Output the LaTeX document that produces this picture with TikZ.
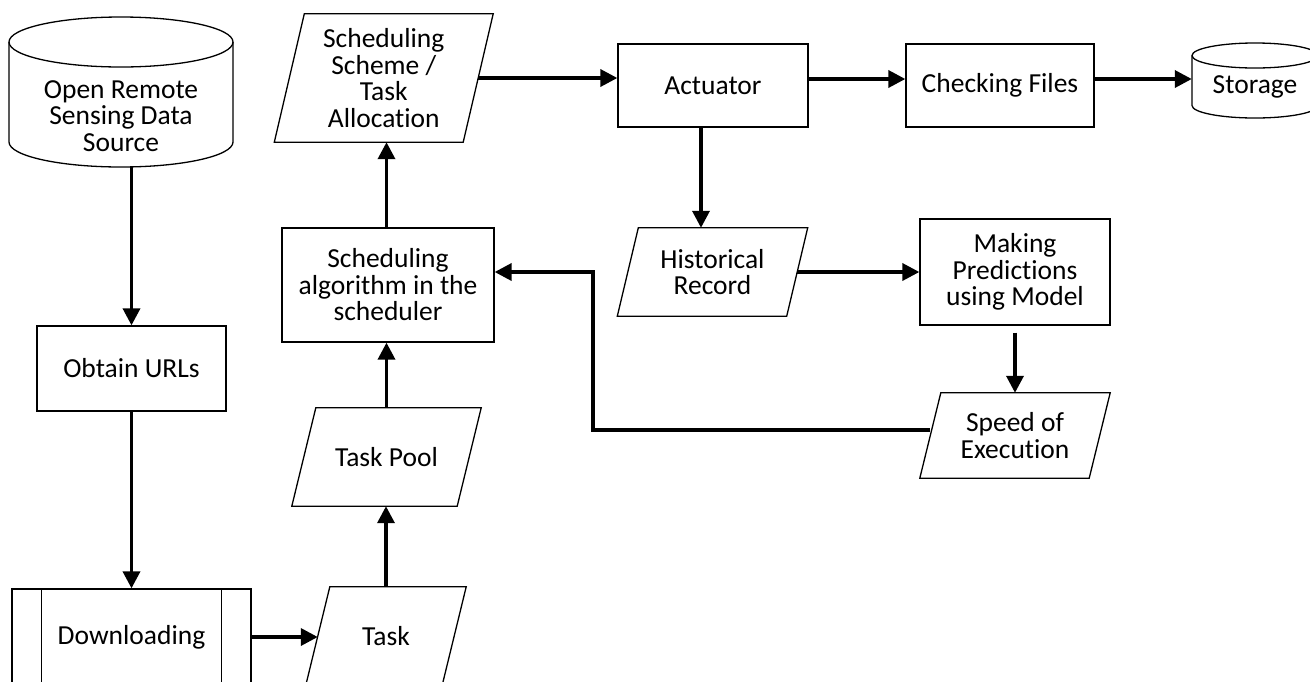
\documentclass[tikz,border=0pt]{standalone}
\usepackage{fontspec}
\setmainfont{Carlito}[Ligatures=NoCommon]
\usetikzlibrary{arrows.meta}
\newcommand\parallelo[2]{\draw[outline] ([xshift=#2]#1.north west) -- ([xshift=#2]#1.north east) -- ([xshift=-#2]#1.south east) -- ([xshift=-#2]#1.south west) -- cycle;}
\begin{document}
\begin{tikzpicture}[x=1pt,y=-1pt,
  base/.style={align=center, inner sep=0pt, font=\fontsize{27.5}{26.5}\selectfont},
  outline/.style={line width=1.3pt},
  rbox/.style={base, draw, line width=1.3pt},
  pbox/.style={base},
  arr/.style={line width=3.5pt, -{Triangle[length=17pt,width=17pt]}}
]
\useasboundingbox (0,0) rectangle (1310,681);
\clip (0,0) rectangle (1310,681);
% nodes
\node[pbox, minimum width=224pt, minimum height=100pt] (src) at (121,116) {Open Remote\\Sensing Data\\Source};
\node[rbox, minimum width=189pt, minimum height=85pt] (obt) at (131.5,368.5) {Obtain URLs};
\node[rbox, minimum width=239pt, minimum height=96pt] (dl) at (131.5,637) {Downloading};
\node[pbox, minimum width=136pt, minimum height=98pt] (task) at (386,636) {Task};
\node[pbox, minimum width=165pt, minimum height=98pt] (pool) at (386.5,457) {Task Pool};
\node[rbox, minimum width=212pt, minimum height=114pt] (alg) at (388,285) {Scheduling\\algorithm in the\\scheduler};
\node[pbox, minimum width=188.5pt, minimum height=128pt] (sch) at (383.75,78) {Scheduling\\Scheme /\\Task\\Allocation};
\node[rbox, minimum width=190pt, minimum height=83pt] (act) at (713,85.5) {Actuator};
\node[rbox, minimum width=188pt, minimum height=83pt] (chk) at (1000,85.5) {Checking Files};
\node[pbox, minimum width=126pt, minimum height=38pt] (stor) at (1255,87) {Storage};
\node[pbox, minimum width=169pt, minimum height=88pt] (hist) at (712.5,272) {Historical\\Record};
\node[rbox, minimum width=190pt, minimum height=106pt] (mk) at (1015,272) {Making\\Predictions\\using Model};
\node[pbox, minimum width=169pt, minimum height=85pt] (spd) at (1015,435.5) {Speed of\\Execution};
% shapes
\draw[outline] (121,42) ellipse [x radius=112pt, y radius=25pt];
\draw[outline] (9,42) -- (9,142) arc[start angle=180, end angle=360, x radius=112pt, y radius=25pt] -- (233,42);
\draw[outline] (1255,55.5) ellipse [x radius=63pt, y radius=12.5pt];
\draw[outline] (1192,55.5) -- (1192,105.5) arc[start angle=180, end angle=360, x radius=63pt, y radius=12.5pt] -- (1318,55.5);
\draw[outline] ([xshift=30pt]dl.north west) -- ([xshift=30pt]dl.south west);
\draw[outline] ([xshift=-30pt]dl.north east) -- ([xshift=-30pt]dl.south east);
\parallelo{task}{12pt}
\parallelo{pool}{12pt}
\parallelo{sch}{15pt}
\parallelo{hist}{10.5pt}
\parallelo{spd}{10.5pt}
% connectors
\draw[arr] (src.south -| obt.north) -- (obt.north);
\draw[arr] (obt.south) -- (dl.north);
\draw[arr] (dl.east) -- (dl.east -| task.west);
\draw[arr] (task.north) -- (task.north |- pool.south);
\draw[arr] (pool.north) -- (pool.north |- alg.south);
\draw[arr] (alg.north -| pool.north) -- (sch.south -| pool.north);
\draw[arr] (sch.east) -- (sch.east -| act.west);
\draw[arr] ([yshift=6.5pt]act.east) -- ([yshift=6.5pt]chk.west);
\draw[arr] ([yshift=6.5pt]chk.east) -- ([yshift=6.5pt]chk.east -| stor.west);
\draw[arr] ([xshift=-12pt]act.south) -- ([xshift=-12pt]act.south |- hist.north);
\draw[arr] (hist.east) -- (mk.west);
\draw[arr, shorten <=7pt] (mk.south) -- (spd.north);
\coordinate (fb) at (593,272);
\draw[arr] ([yshift=5.5pt]spd.west) -| (fb) -- (fb -| alg.east);
\end{tikzpicture}
\end{document}
